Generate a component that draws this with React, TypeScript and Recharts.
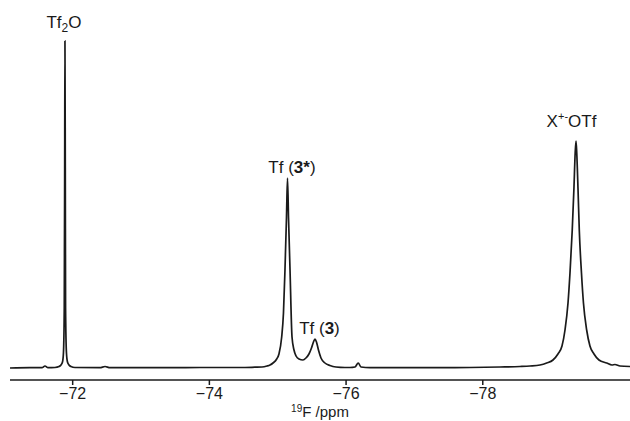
import React from "react";
import { LineChart, Line, XAxis, YAxis, ReferenceDot } from "recharts";

// chemical shift (ppm) and intensity
const PPM = [
  -71.083, -71.375, -71.551, -71.595, -71.639, -71.741, -71.8, -71.829, -71.851, -71.865,
  -71.877, -71.883, -71.887, -71.892, -71.896, -71.909, -71.924, -71.946, -71.975, -72.034,
  -72.399, -72.473, -72.546, -73.131, -73.862, -74.448, -74.667, -74.77, -74.843, -74.887,
  -74.931, -74.985, -75.018, -75.058, -75.084, -75.106, -75.128, -75.143, -75.158, -75.18,
  -75.209, -75.238, -75.268, -75.311, -75.369, -75.413, -75.457, -75.494, -75.523, -75.545,
  -75.567, -75.596, -75.633, -75.691, -75.764, -75.852, -75.984, -76.057, -76.13, -76.178,
  -76.218, -76.35, -77.082, -77.813, -78.252, -78.545, -78.691, -78.837, -78.935, -79.027,
  -79.1, -79.159, -79.203, -79.247, -79.276, -79.309, -79.334, -79.352, -79.364, -79.375,
  -79.393, -79.412, -79.444, -79.473, -79.52, -79.568, -79.627, -79.7, -79.813, -79.89,
  -79.934, -80.007, -80.154,
];
const INTENSITY = [
  0, 0.3, 0.3, 2, 0.3, 0.5, 1.5, 3, 6, 15,
  60, 200, 327, 200, 60, 15, 6, 3, 1.5, 0.5,
  0.3, 1.5, 0.3, 0.3, 0.5, 0.5, 0.8, 1, 2, 3,
  5, 9, 14, 31, 55, 98, 150, 190, 150, 98,
  31, 18, 12, 9, 8, 10, 14, 20, 26, 29,
  26, 18, 10, 5, 2.5, 1, 0.5, 0.5, 1, 5,
  1, 0.3, 0.3, 0.5, 1, 1.5, 2, 3, 5, 8,
  14, 22, 38, 65, 95, 138, 180, 215, 227, 215,
  180, 138, 95, 65, 38, 22, 14, 8, 5, 3,
  3.5, 2, 1.5,
];
const X_TICKS = [-78, -76, -74, -72];
const X_DOMAIN = [-80.154, -71.083];

const data = PPM.map((p, i) => ({ ppm: p, v: INTENSITY[i] }));

const FONT = "'Liberation Sans', Arial, Helvetica, sans-serif";
const INK = "#1a1a1a";

type PeakLabel = { ppm: number; h: number; dx: number; dy: number; render: () => React.ReactNode };

const PEAK_LABELS: PeakLabel[] = [
  {
    ppm: -71.887, h: 327, dx: -1, dy: -13,
    render: () => (
      <>
        Tf<tspan fontSize={12} dy={4}>2</tspan>
        <tspan dy={-4}>O</tspan>
      </>
    ),
  },
  {
    ppm: -75.143, h: 190, dx: 4.5, dy: -5,
    render: () => (
      <>
        Tf (<tspan fontWeight="bold">3*</tspan>)
      </>
    ),
  },
  {
    ppm: -75.545, h: 29, dx: 4.5, dy: -5,
    render: () => (
      <>
        Tf (<tspan fontWeight="bold">3</tspan>)
      </>
    ),
  },
  {
    ppm: -79.364, h: 227, dx: -4.5, dy: -14,
    render: () => (
      <>
        X<tspan fontSize={11} dy={-7}>+-</tspan>
        <tspan dy={7}>OTf</tspan>
      </>
    ),
  },
];

const fmt = (v: number) => (v < 0 ? `\u2212${Math.abs(v)}` : `${v}`);

const AxisTitle = (props: any) => {
  const vb = props.viewBox || {};
  const cx = vb.x + vb.width / 2;
  const y = vb.y + 37;
  return (
    <text x={cx} y={y} textAnchor="middle" fontSize={15} fontFamily={FONT} fill={INK}>
      <tspan fontSize={10} dy={-5}>19</tspan>
      <tspan dy={5}>F /ppm</tspan>
    </text>
  );
};

export default function App() {
  return (
    <div style={{ position: "absolute", left: 0, top: 0, background: "#fff" }}>
      <LineChart
        width={630}
        height={421}
        data={data}
        margin={{ top: 28, right: 0, bottom: 0, left: 10 }}
      >
        <XAxis
          dataKey="ppm"
          type="number"
          domain={X_DOMAIN}
          allowDataOverflow
          reversed
          ticks={X_TICKS}
          tickFormatter={fmt}
          height={41}
          tickSize={5}
          tickMargin={3}
          axisLine={{ stroke: INK, strokeWidth: 1.5 }}
          tickLine={{ stroke: INK, strokeWidth: 1.5 }}
          tick={{ fontSize: 16, fill: INK, fontFamily: FONT }}
          label={{ content: AxisTitle }}
        />
        <YAxis hide type="number" domain={[-12, 340]} allowDataOverflow />
        <Line
          type="monotone"
          dataKey="v"
          stroke={INK}
          strokeWidth={1.7}
          dot={false}
          isAnimationActive={false}
        />
        {PEAK_LABELS.map((l, i) => (
          <ReferenceDot
            key={i}
            x={l.ppm}
            y={l.h}
            r={0}
            ifOverflow="visible"
            shape={(p: any) => (
              <text
                x={p.cx + l.dx}
                y={p.cy + l.dy}
                textAnchor="middle"
                fontSize={17}
                fontFamily={FONT}
                fill={INK}
              >
                {l.render()}
              </text>
            )}
          />
        ))}
      </LineChart>
    </div>
  );
}
